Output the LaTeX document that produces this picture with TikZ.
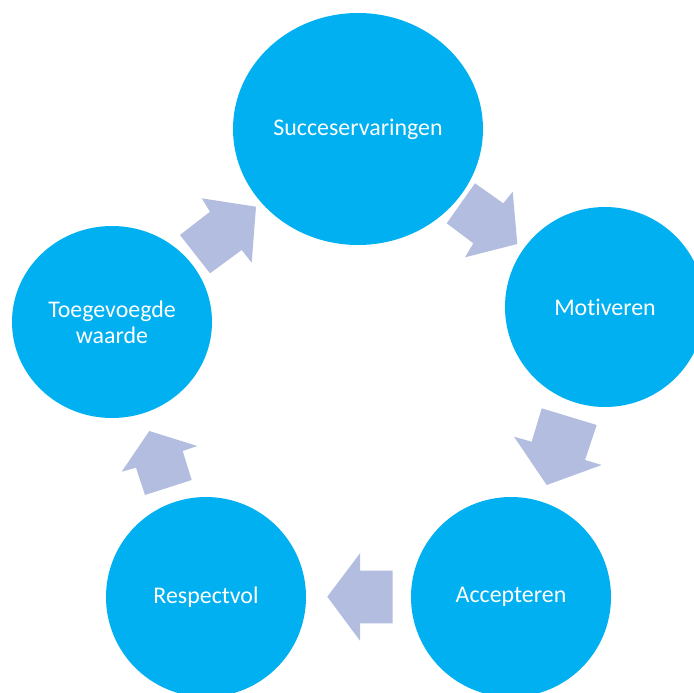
\documentclass[tikz,border=0pt]{standalone}
\usepackage{fontspec}
\setmainfont{Carlito}[Ligatures={NoCommon,NoRequired,NoContextual}]
\usetikzlibrary{shapes.geometric}
\definecolor{cblue}{RGB}{0,176,240}
\definecolor{carrow}{RGB}{178,189,224}
\begin{document}
\begin{tikzpicture}[x=1bp,y=-1bp,
  stage/.style={ellipse, fill=cblue, text=white, font=\fontsize{24}{26.5}\selectfont, align=center, inner sep=0pt, minimum width=200bp, minimum height=200bp},
  blockarrow/.style={fill=carrow}]
\useasboundingbox (0,0) rectangle (694,693);
\clip (0,0) rectangle (694,693);
\node[stage, minimum width=250bp, minimum height=232bp] (s1) at (358,129) {Succeservaringen};
\node[stage] (s2) at (605,307) {Motiveren};
\node[stage] (s3) at (511,597) {Accepteren};
\node[stage] (s4) at (206,597) {Respectvol};
\node[stage, minimum height=192bp] (s5) at (112,322) {Toegevoegde\\waarde};
% block arrows
\fill[blockarrow] (201.7,198.3) -- (210,211.7) -- (180,235) -- (210,273.3) -- (241.7,250) -- (251.7,262.7) -- (256,206.7) -- cycle;
\fill[blockarrow] (475,183.3) -- (503.3,203.3) -- (512.7,191.7) -- (517.3,244) -- (465,257.3) -- (473.3,243.3) -- (446.7,223.3) -- cycle;
\fill[blockarrow] (541.7,408.3) -- (596.7,425) -- (585,460) -- (601.7,465) -- (546.7,485) -- (514,436.7) -- (531.7,441.7) -- cycle;
\fill[blockarrow] (392.7,570.7) -- (392.7,623.3) -- (360,623.3) -- (360,640.7) -- (327.3,596.7) -- (360,553.3) -- (360,570.7) -- cycle;
\fill[blockarrow] (191.7,480) -- (145,495) -- (136,467.7) -- (121.7,471.7) -- (149.3,431) -- (197.3,446) -- (182.7,451) -- cycle;
\end{tikzpicture}
\end{document}
